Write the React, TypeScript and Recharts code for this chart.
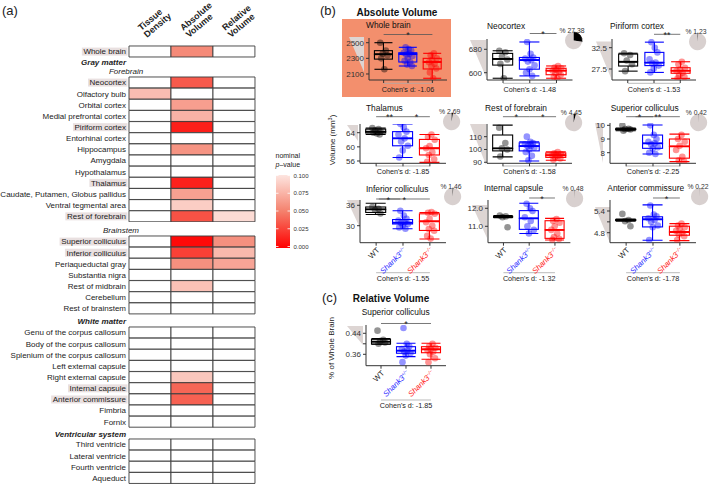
import React from 'react';
import { BarChart, Bar, Cell, XAxis, YAxis, ComposedChart, Scatter, ReferenceLine, PieChart, Pie } from 'recharts';

const FONT = '"Liberation Sans", Arial, Helvetica, sans-serif';

// ---------- (a) heatmap ----------
const WHOLE_REGIONS = ['Whole brain'];
const FOREBRAIN_REGIONS = [
  'Neocortex', 'Olfactory bulb', 'Orbital cortex', 'Medial prefrontal cortex', 'Piriform cortex',
  'Entorhinal cortex', 'Hippocampus', 'Amygdala', 'Hypothalamus', 'Thalamus',
  'Caudate, Putamen, Globus pallidus', 'Ventral tegmental area', 'Rest of forebrain',
];
const BRAINSTEM_REGIONS = [
  'Superior colliculus', 'Inferior colliculus', 'Periaqueductal gray', 'Substantia nigra',
  'Rest of midbrain', 'Cerebellum', 'Rest of brainstem',
];
const WHITE_REGIONS = [
  'Genu of the corpus callosum', 'Body of the corpus callosum', 'Splenium of the corpus callosum',
  'Left external capsule', 'Right external capsule', 'Internal capsule', 'Anterior commissure',
  'Fimbria', 'Fornix',
];
const VENTRICLE_REGIONS = ['Third ventricle', 'Lateral ventricle', 'Fourth ventricle', 'Aqueduct'];

// nominal p-values [tissue density, absolute volume, relative volume]; null = not below 0.1
const WHOLE_P = [[null, 0.055, null]];
const FOREBRAIN_P = [
  [null, 0.035, null],
  [0.08, null, null],
  [null, 0.065, null],
  [null, 0.075, null],
  [null, 0.012, null],
  [null, null, null],
  [null, 0.06, null],
  [null, null, null],
  [null, null, null],
  [null, 0.013, null],
  [null, 0.066, null],
  [null, 0.088, null],
  [null, 0.032, 0.095],
];
const BRAINSTEM_P = [
  [null, 0.004, 0.058],
  [null, 0.025, 0.078],
  [null, 0.058, 0.068],
  [null, null, null],
  [null, 0.082, null],
  [null, null, null],
  [null, null, null],
];
const WHITE_P = [
  [null, null, null],
  [null, null, null],
  [null, null, null],
  [null, null, null],
  [null, 0.085, null],
  [null, 0.04, null],
  [null, 0.038, null],
  [null, null, null],
  [null, null, null],
];
const VENTRICLE_P = [
  [null, null, null],
  [null, null, null],
  [null, null, null],
  [null, null, null],
];
const HIGHLIGHTED = [
  'Whole brain', 'Neocortex', 'Piriform cortex', 'Thalamus', 'Rest of forebrain',
  'Superior colliculus', 'Inferior colliculus', 'Internal capsule', 'Anterior commissure',
];
const LEGEND_TICKS = [0.1, 0.075, 0.05, 0.025, 0];

// ---------- (b)/(c) box plots ----------
const GROUPS = ['WT', 'Shank3+/-', 'Shank3-/-'];
const GROUP_COLORS = ['#000000', '#0000ff', '#ff0000'];
const TITLES = [
  'Whole brain', 'Neocortex', 'Piriform cortex', 'Thalamus', 'Rest of forebrain',
  'Superior colliculus', 'Inferior colliculus', 'Internal capsule', 'Anterior commissure',
  'Superior colliculus',
];
const COHEN_D = [-1.06, -1.48, -1.53, -1.85, -1.58, -2.25, -1.55, -1.32, -1.78, -1.85];
const PIE_PCT = [null, 27.38, 1.23, 2.69, 4.45, 0.42, 1.46, 0.48, 0.22, null];

// box stats per group: [min, q1, median, q3, max]
const WB_BOX = [[2160, 2290, 2352, 2398, 2500], [2202, 2253, 2355, 2372, 2441], [2045, 2164, 2253, 2300, 2364]];
const WB_PTS = [
  [2500, 2398, 2360, 2340, 2300, 2160],
  [2441, 2420, 2400, 2372, 2360, 2350, 2330, 2300, 2270, 2253, 2220, 2202],
  [2364, 2340, 2300, 2280, 2250, 2230, 2200, 2170, 2120, 2045],
];
const NEO_BOX = [[581, 626, 647, 666, 675], [589, 612, 643, 652, 705], [581, 593, 607, 615, 623]];
const NEO_PTS = [
  [675, 670, 655, 645, 630, 581],
  [705, 665, 652, 648, 643, 638, 625, 612, 600, 589],
  [623, 618, 615, 610, 607, 603, 598, 593, 585, 581],
];
const PIR_BOX = [[27.0, 28.2, 29.2, 31.0, 31.2], [26.7, 28.3, 29.0, 31.4, 33.8], [25.3, 26.5, 27.1, 27.8, 29.2]];
const PIR_PTS = [
  [31.2, 30.8, 29.5, 28.6, 27.0],
  [33.8, 32.5, 31.4, 29.8, 29.0, 28.8, 28.3, 27.6, 26.7],
  [29.2, 28.6, 27.8, 27.4, 27.0, 26.6, 26.0, 25.6, 25.3],
];
const THAL_BOX = [[63.5, 63.9, 64.3, 65.0, 65.3], [57.0, 60.3, 62.4, 64.3, 66.5], [55.6, 57.7, 59.6, 62.1, 63.5]];
const THAL_PTS = [
  [65.3, 65.0, 64.6, 64.3, 64.0, 63.8, 63.5],
  [66.5, 65.5, 64.3, 63.5, 62.4, 61.5, 60.3, 59.0, 57.0],
  [63.5, 62.8, 62.0, 60.2, 59.6, 58.5, 57.7, 56.5, 55.8],
];
const ROF_BOX = [[94.2, 98.9, 100.8, 111.3, 119.0], [91.0, 98.9, 102.6, 105.2, 106.0], [91.6, 93.8, 95.5, 97.3, 98.1]];
const ROF_PTS = [
  [117, 105, 101, 100, 94.5],
  [110, 106, 105, 104, 103, 102.6, 101.5, 100, 98, 95, 91.5],
  [98, 97, 96.5, 96, 95.5, 95, 94, 93, 92],
];
const SC_BOX = [[9.6, 9.68, 9.71, 9.75, 9.8], [7.9, 8.32, 8.68, 9.29, 10.02], [7.35, 7.6, 8.46, 9.0, 9.36]];
const SC_PTS = [
  [10.0, 9.75, 9.72, 9.7, 9.6],
  [10.0, 9.3, 9.0, 8.8, 8.68, 8.6, 8.4, 8.3, 8.0, 7.9],
  [9.3, 9.0, 8.8, 8.5, 8.2, 7.7, 7.45, 7.35],
];
const IC_BOX = [[33.3, 33.9, 34.8, 35.5, 36.6], [29.1, 30.5, 30.9, 31.8, 34.4], [26.1, 28.6, 31.3, 33.5, 33.9]];
const IC_PTS = [
  [35.5, 35.0, 34.6, 33.6],
  [34.4, 33.0, 32.0, 31.5, 31.0, 30.8, 30.5, 30.0, 29.5, 29.1],
  [34.0, 33.8, 33.5, 32.0, 31.0, 30.0, 29.0, 28.5, 27.0, 26.2],
];
const IC2_BOX = [[11.48, 11.5, 11.53, 11.56, 11.6], [10.6, 10.83, 11.44, 11.87, 12.28], [10.24, 10.33, 10.8, 11.31, 11.44]];
const IC2_PTS = [
  [11.6, 11.55, 11.5, 10.95],
  [12.25, 12.0, 11.85, 11.5, 11.3, 11.0, 10.8, 10.6],
  [11.4, 11.3, 11.2, 11.0, 10.8, 10.6, 10.4, 10.3, 10.25],
];
const AC_BOX = [[5.12, 5.14, 5.15, 5.16, 5.18], [4.59, 4.96, 5.17, 5.24, 5.57], [4.58, 4.73, 4.82, 4.98, 5.05]];
const AC_PTS = [
  [5.32, 5.15, 5.12, 4.98],
  [5.55, 5.3, 5.25, 5.2, 5.15, 5.1, 5.0, 4.95, 4.6],
  [5.05, 5.0, 4.95, 4.9, 4.85, 4.8, 4.75, 4.7, 4.6],
];
const REL_BOX = [[0.398, 0.399, 0.408, 0.417, 0.42], [0.351, 0.364, 0.374, 0.389, 0.402], [0.341, 0.366, 0.379, 0.389, 0.402]];
const REL_PTS = [
  [0.45, 0.415, 0.41, 0.405, 0.4],
  [0.46, 0.4, 0.39, 0.38, 0.375, 0.37, 0.365, 0.355, 0.33],
  [0.4, 0.39, 0.385, 0.38, 0.375, 0.37, 0.36, 0.345, 0.33],
];
// significance brackets: [from, to, stars] in group positions
const SIGS = [
  [[1, 3, '*']],
  [[2, 3, '*']],
  [[2, 3, '**']],
  [[1, 2, '**'], [2, 3, '*']],
  [[1, 2, '*'], [2, 3, '*']],
  [[1.35, 3, '**'], [1, 2, '*']],
  [[1.1, 3, '*'], [1, 1.9, '*']],
  [[2, 3, '*']],
  [[2, 3, '*']],
  [[1, 3, '*']],
];

// fixed horizontal jitter pattern (category units)
const JITTER = [-0.14, 0.09, -0.04, 0.16, -0.1, 0.03, 0.13, -0.17, 0.06, -0.07, 0.18, -0.01];

// ---------- helpers ----------
const STOPS = [[255, 0, 0], [244, 128, 108], [253, 229, 224]];
const pColor = (p: number | null) => {
  if (p === null || p === undefined) return '#ffffff';
  const t = Math.max(0, Math.min(1, p / 0.1)) * 2;
  const i = Math.min(1, Math.floor(t));
  const f = t - i;
  const c = STOPS[i].map((v, k) => Math.round(v + (STOPS[i + 1][k] - v) * f));
  return `rgb(${c[0]},${c[1]},${c[2]})`;
};

let ctx: any = null;
const textWidth = (s: string) => {
  if (!ctx) ctx = document.createElement('canvas').getContext('2d');
  ctx.font = '8px "Liberation Sans"';
  return ctx.measureText(s).width;
};

const ROW_H = 11.15;

const RegionTick = (props: any) => {
  const { x, y, payload } = props;
  const label = payload.value;
  const w = textWidth(label);
  return (
    <g>
      {HIGHLIGHTED.includes(label) && (
        <rect x={x - w - 1.5} y={y - 4} width={w + 3} height={8} fill="#e9e0e0" />
      )}
      <text x={x} y={y} dy="0.35em" textAnchor="end" fontSize={8} fill="#222" fontFamily={FONT}>{label}</text>
    </g>
  );
};

const HeatGroup = ({ names, pvals, top }: any) => {
  const data = names.map((name: string, i: number) => ({ name, td: 1, abs: 1, rel: 1, p: pvals[i] }));
  const h = names.length * ROW_H;
  return (
    <div style={{ position: 'absolute', left: 0, top: top - 1 }}>
      <BarChart width={256} height={h + 2} data={data} layout="vertical" barCategoryGap={0}
        margin={{ top: 1, right: 1, bottom: 1, left: 0 }}>
        <XAxis type="number" domain={[0, 3]} hide />
        <YAxis type="category" dataKey="name" width={129} tickLine={false} axisLine={false}
          tickSize={0} tickMargin={3} interval={0} tick={<RegionTick />} />
        {['td', 'abs', 'rel'].map((k, j) => (
          <Bar key={k} dataKey={k} stackId="h" stroke="#3c3c3c" strokeWidth={0.9} isAnimationActive={false}>
            {data.map((d: any, i: number) => <Cell key={i} fill={pColor(d.p[j])} />)}
          </Bar>
        ))}
      </BarChart>
    </div>
  );
};

const HEAT_GROUPS = [
  { names: WHOLE_REGIONS, pvals: WHOLE_P, top: 46.2 },
  { names: FOREBRAIN_REGIONS, pvals: FOREBRAIN_P, top: 76.5 },
  { names: BRAINSTEM_REGIONS, pvals: BRAINSTEM_P, top: 235.5 },
  { names: WHITE_REGIONS, pvals: WHITE_P, top: 327.1 },
  { names: VENTRICLE_REGIONS, pvals: VENTRICLE_P, top: 439.1 },
];

// ---------- box plot panel ----------
const boxShape = (part: string) => (props: any) => {
  const { x, y, width, height, payload } = props;
  const col = GROUP_COLORS[payload.gi];
  const top = Math.min(y, y + height);
  const h = Math.abs(height);
  const cx = x + width / 2;
  const sw = 1.1;
  if (part === 'base') return <g />;
  if (part === 'lw') {
    return (
      <g stroke={col} strokeWidth={sw}>
        <line x1={cx} x2={cx} y1={top} y2={top + h} />
        <line x1={x} x2={x + width} y1={top + h} y2={top + h} />
      </g>
    );
  }
  if (part === 'uw') {
    return (
      <g stroke={col} strokeWidth={sw}>
        <line x1={cx} x2={cx} y1={top} y2={top + h} />
        <line x1={x} x2={x + width} y1={top} y2={top} />
      </g>
    );
  }
  return (
    <g>
      <rect x={x} y={top} width={width} height={h} fill="none" stroke={col} strokeWidth={sw} />
      {part === 'lb' && <line x1={x} x2={x + width} y1={top} y2={top} stroke={col} strokeWidth={1.8} />}
    </g>
  );
};

const Dot = (props: any) => {
  const { cx, cy, payload } = props;
  return <circle cx={cx} cy={cy} r={3.3} fill={payload.c} fillOpacity={0.42} />;
};

const GroupTick = (props: any) => {
  const { x, y, payload } = props;
  const i = GROUPS.indexOf(payload.value);
  return (
    <g transform={`translate(${x + 2},${y + 1}) rotate(-45)`}>
      <text textAnchor="end" dy="0.35em" fontSize={7.8} fontFamily={FONT}
        fill={i === 0 ? '#222' : i === 1 ? '#2b2bff' : '#ff2020'} fontStyle={i === 0 ? 'normal' : 'italic'}>
        {i === 0 ? 'WT' : 'Shank3'}
        {i > 0 && <tspan fontSize={4.8} dy={-3}>{i === 1 ? '+/−' : '−/−'}</tspan>}
      </text>
    </g>
  );
};

const YW = 30;
const MT = 40;
const MR = 4;
const XH = 30;
const MB = 16;

const BoxPanel = ({ cfg }: any) => {
  const [lo, hi] = cfg.domain;
  const ph = cfg.pb - cfg.pt;
  const val = (px: number) => hi - ((px - cfg.pt) / ph) * (hi - lo);
  const rows = GROUPS.map((g, gi) => {
    const [mn, q1, md, q3, mx] = cfg.box[gi];
    return { g, gi, base: mn, lw: q1 - mn, lb: md - q1, ub: q3 - md, uw: mx - q3 };
  });
  const pts = cfg.pts.flatMap((arr: number[], gi: number) =>
    arr.map((y, j) => ({ x: gi + 1 + JITTER[(j + gi * 4) % JITTER.length], y, c: GROUP_COLORS[gi] })));
  const band = (cfg.pw * 0.9375) / 3;
  const width = YW + cfg.pw + MR;
  const height = MT + ph + XH + MB;
  const sigV = val(cfg.sigY);
  const dV = val(cfg.dY);
  return (
    <div style={{ position: 'absolute', left: cfg.ax - YW, top: cfg.pt - MT }}>
      <ComposedChart width={width} height={height} data={rows}
        margin={{ top: MT, right: MR, bottom: MB, left: 0 }}>
        <XAxis xAxisId="cat" dataKey="g" type="category" height={XH} interval={0}
          padding={{ left: cfg.pw / 32, right: cfg.pw / 32 }} tickSize={3} tickMargin={2}
          axisLine={{ stroke: '#333' }} tickLine={{ stroke: '#333' }}
          tick={(p: any) => (cfg.labels ? <GroupTick {...p} /> : <g />)} />
        <XAxis xAxisId="num" dataKey="x" type="number" domain={[0.4, 3.6]} allowDataOverflow hide />
        <YAxis type="number" domain={[lo, hi]} allowDataOverflow ticks={cfg.ticks} interval={0}
          tickFormatter={(v: number) => ((cfg.blank || []).includes(v) ? '' : v.toFixed(cfg.dec))}
          width={YW} tickSize={3} tickMargin={2} axisLine={{ stroke: '#333' }} tickLine={{ stroke: '#333' }}
          tick={{ fontSize: 8, fill: '#333', fontFamily: FONT }} />
        {['base', 'lw', 'lb', 'ub', 'uw'].map((k) => (
          <Bar key={k} xAxisId="cat" dataKey={k} stackId="box" barSize={Math.round(band * 0.74)}
            shape={boxShape(k)} isAnimationActive={false} />
        ))}
        <Scatter xAxisId="num" data={pts} dataKey="y" shape={<Dot />} isAnimationActive={false} />
        {cfg.sig.map((s: any, i: number) => (
          <ReferenceLine key={i} xAxisId="num" ifOverflow="visible" stroke="#555" strokeWidth={0.8}
            segment={[{ x: s[0], y: sigV }, { x: s[1], y: sigV }]}
            label={{ value: s[2], position: 'top', offset: -3.8, fontSize: 9, fill: '#222', fontFamily: FONT }} />
        ))}
        <ReferenceLine xAxisId="num" ifOverflow="visible" stroke="#aaa" strokeWidth={0.8}
          segment={[{ x: 1, y: dV }, { x: 3, y: dV }]}
          label={{ value: `Cohen's d: ${cfg.d.toFixed(2)}`, position: 'bottom', offset: 3.2, fontSize: 7.2, fill: '#222', fontFamily: FONT }} />
      </ComposedChart>
    </div>
  );
};

const InsetPie = ({ pct, cx, cy }: any) => {
  const r = 8.6;
  const data = [{ v: pct }, { v: 100 - pct }];
  return (
    <div style={{ position: 'absolute', left: cx - r - 1, top: cy - r - 1 }}>
      <PieChart width={2 * r + 2} height={2 * r + 2} margin={{ top: 0, right: 0, bottom: 0, left: 0 }}>
        <Pie data={data} dataKey="v" cx={r + 1} cy={r + 1} outerRadius={r} innerRadius={0}
          startAngle={90} endAngle={-270} isAnimationActive={false}>
          <Cell fill="#000" stroke="#000" strokeWidth={0.6} />
          <Cell fill="#d8d0cf" stroke="none" />
        </Pie>
      </PieChart>
    </div>
  );
};

const PANELS = [
  { box: WB_BOX, pts: WB_PTS, domain: [2023, 2560], ticks: [2100, 2300, 2500], dec: 0, ax: 369, pw: 78, pt: 38, pb: 80, sigY: 34.5, dY: 83.3, labels: false, tx: 366, ty: 25.2, pieXY: null, wedge: [349, 364, 37, 72] },
  { box: NEO_BOX, pts: NEO_PTS, domain: [575, 715.2], ticks: [600, 680], dec: 0, ax: 486.5, pw: 85.5, pt: 39, pb: 80, sigY: 33.5, dY: 83.3, labels: false, tx: 487, ty: 26, pieXY: [574, 41], wedge: [470, 486, 40, 77] },
  { box: PIR_BOX, pts: PIR_PTS, domain: [24.92, 34.54], ticks: [27.5, 32.5], dec: 1, ax: 612, pw: 84, pt: 39, pb: 80, sigY: 34.3, dY: 83.3, labels: false, tx: 610, ty: 26, pieXY: [698, 41.5], wedge: [596, 611, 41.5, 78] },
  { box: THAL_BOX, pts: THAL_PTS, domain: [55.35, 66.46], ticks: [56, 60, 64], dec: 0, ax: 360, pw: 86, pt: 124, pb: 163.3, sigY: 116.7, dY: 166, labels: false, tx: 366, ty: 107.6, pieXY: [451.7, 121.7], wedge: [347, 358, 125, 141] },
  { box: ROF_BOX, pts: ROF_PTS, domain: [89.2, 119.9], ticks: [90, 100, 110], dec: 0, ax: 487, pw: 85, pt: 124, pb: 163.3, sigY: 116.7, dY: 166, labels: false, tx: 485, ty: 107.6, pieXY: [573.3, 123], wedge: [470, 486, 124, 165] },
  { box: SC_BOX, pts: SC_PTS, domain: [7.226, 10.17], ticks: [8, 9, 10], dec: 0, ax: 610, pw: 86, pt: 123, pb: 163.3, sigY: 116.7, dY: 166, labels: false, tx: 610.7, ty: 107.8, pieXY: [698.3, 122.7], wedge: [595, 603, 123, 163] },
  { box: IC_BOX, pts: IC_PTS, domain: [25.0, 37.56], ticks: [30, 36], dec: 0, ax: 360, pw: 86, pt: 200, pb: 242.7, sigY: 199, dY: 272.7, labels: true, tx: 366, ty: 189.5, pieXY: [453, 197], wedge: [347, 360, 200, 228] },
  { box: IC2_BOX, pts: IC2_PTS, domain: [10.09, 12.46], ticks: [11, 12], dec: 1, ax: 487.5, pw: 82.4, pt: 200, pb: 242.7, sigY: 198, dY: 272.7, labels: true, tx: 484, ty: 188.2, pieXY: [575, 198.3], wedge: [472, 487, 205, 238] },
  { box: AC_BOX, pts: AC_PTS, domain: [4.524, 5.704], ticks: [4.8, 5.1, 5.4], blank: [5.1], dec: 1, ax: 610, pw: 86, pt: 200, pb: 242.7, sigY: 198, dY: 272.7, labels: true, tx: 607.3, ty: 188.2, pieXY: [700, 196.7], wedge: [595, 610, 207, 243] },
  { box: REL_BOX, pts: REL_PTS, domain: [0.3166, 0.4716], ticks: [0.36, 0.4, 0.44], blank: [0.4], dec: 2, ax: 366, pw: 80, pt: 325, pb: 365.7, sigY: 323.5, dY: 400, labels: true, tx: 361.7, ty: 312, pieXY: null, wedge: [347, 363, 326, 345] },
].map((p, i) => ({ ...p, title: TITLES[i], d: COHEN_D[i], pie: PIE_PCT[i], sig: SIGS[i] }));

const HEADERS = [['Tissue', 'Density'], ['Absolute', 'Volume'], ['Relative', 'Volume']];
const HEADER_X = [150, 192, 234];

export default function App() {
  return (
    <div style={{ position: 'absolute', left: 0, top: 0, width: 709, height: 486, overflow: 'hidden', background: '#fff', fontFamily: FONT }}>
      {/* whole-brain highlight background */}
      <div style={{ position: 'absolute', left: 342, top: 19.3, width: 109.4, height: 78, background: '#f38f6d' }} />
      <svg width={709} height={486} style={{ position: 'absolute', left: 0, top: 0 }}>
        {PANELS.map((p, i) => (
          <polygon key={i} fill="#ddd5d3"
            points={`${p.wedge[0]},${p.wedge[2]} ${p.wedge[1]},${p.wedge[2]} ${p.wedge[1]},${p.wedge[3]}`} />
        ))}
      </svg>

      {HEAT_GROUPS.map((g, i) => <HeatGroup key={i} {...g} />)}
      {PANELS.map((p, i) => <BoxPanel key={i} cfg={p} />)}
      {PANELS.filter((p) => p.pie !== null).map((p, i) => (
        <InsetPie key={i} pct={p.pie} cx={p.pieXY[0]} cy={p.pieXY[1]} />
      ))}

      <svg width={709} height={486} style={{ position: 'absolute', left: 0, top: 0, pointerEvents: 'none' }} fontFamily={FONT}>
        <defs>
          <linearGradient id="pgrad" x1="0" y1="1" x2="0" y2="0">
            {[0, 0.25, 0.5, 0.75, 1].map((t) => (
              <stop key={t} offset={`${t * 100}%`} stopColor={pColor(t * 0.1)} />
            ))}
          </linearGradient>
        </defs>
        <text x={2} y={10} dy="0.35em" fontSize={13} fill="#222">(a)</text>
        {HEADERS.map((h, i) => (
          <text key={i} transform={`translate(${HEADER_X[i] - 3},38) rotate(-40)`} fontSize={9} fontWeight="bold" fill="#222">
            <tspan x={0} dy={-9}>{h[0]}</tspan>
            <tspan x={0} dy={9}>{h[1]}</tspan>
          </text>
        ))}
        <text x={126} y={62.3} dy="0.35em" textAnchor="end" fontSize={8} fontWeight="bold" fontStyle="italic" fill="#222">Gray matter</text>
        <text x={126} y={71.3} dy="0.35em" textAnchor="middle" fontSize={8} fontStyle="italic" fill="#222">Forebrain</text>
        <text x={121} y={230} dy="0.35em" textAnchor="middle" fontSize={8} fontStyle="italic" fill="#222">Brainstem</text>
        <text x={126} y={321} dy="0.35em" textAnchor="end" fontSize={8} fontWeight="bold" fontStyle="italic" fill="#222">White matter</text>
        <text x={126} y={434} dy="0.35em" textAnchor="end" fontSize={8} fontWeight="bold" fontStyle="italic" fill="#222">Ventricular system</text>

        {/* p-value legend */}
        <text x={275.5} y={155.5} dy="0.35em" fontSize={7} fill="#222">nominal</text>
        <text x={275.5} y={165} dy="0.35em" fontSize={7} fill="#222"><tspan fontStyle="italic">p</tspan>–value</text>
        <rect x={276} y={175} width={14} height={73} fill="url(#pgrad)" />
        {LEGEND_TICKS.map((t) => {
          const yy = 246.5 - (t / 0.1) * 71;
          return (
            <g key={t}>
              <line x1={276} x2={278.5} y1={yy} y2={yy} stroke="#fff" strokeWidth={0.8} />
              <line x1={287.5} x2={290} y1={yy} y2={yy} stroke="#fff" strokeWidth={0.8} />
              <text x={293.5} y={yy} dy="0.35em" fontSize={6} fill="#333">{t.toFixed(3)}</text>
            </g>
          );
        })}

        <text x={320} y={10} dy="0.35em" fontSize={13} fill="#222">(b)</text>
        <text x={356.5} y={12} dy="0.35em" fontSize={10} fontWeight="bold" fill="#111">Absolute Volume</text>
        <text x={322} y={297} dy="0.35em" fontSize={13} fill="#222">(c)</text>
        <text x={352.7} y={298.7} dy="0.35em" fontSize={10} fontWeight="bold" fill="#111">Relative Volume</text>
        <text transform="translate(332,140) rotate(-90)" dy="0.35em" textAnchor="middle" fontSize={8} fill="#222">
          Volume (mm<tspan fontSize={5.5} dy={-3}>3</tspan><tspan dy={3}>)</tspan>
        </text>
        <text transform="translate(331,348) rotate(-90)" dy="0.35em" textAnchor="middle" fontSize={8} fill="#222">% of Whole Brain</text>

        {PANELS.map((p, i) => (
          <text key={i} x={p.tx} y={p.ty} dy="0.35em" fontSize={8.4} fill="#111">{p.title}</text>
        ))}
        {PANELS.filter((p) => p.pie !== null).map((p, i) => (
          <text key={i} x={p.pieXY[0] - 2} y={p.pieXY[1] - 10} dy="0.35em" textAnchor="middle" fontSize={6.8} fill="#333">
            {`% ${p.pie.toFixed(2)}`}
          </text>
        ))}
      </svg>
    </div>
  );
}
